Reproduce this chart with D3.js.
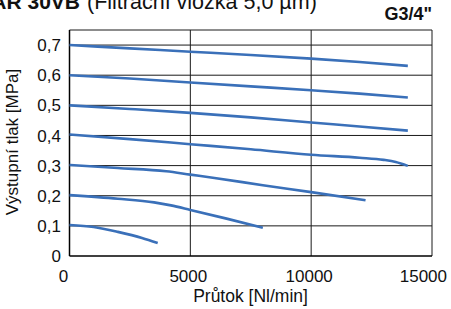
<!DOCTYPE html>
<html><head><meta charset="utf-8">
<script src="https://cdn.jsdelivr.net/npm/d3@7"></script>
<style>body{margin:0;background:#fff}svg{display:block}text{font-family:"Liberation Sans",Arial,sans-serif;fill:#111}</style>
</head><body>
<script>
const xTicks = [0, 5000, 10000, 15000];
const xTickLabels = ["0", "5000", "10000", "15000"];
const yTicks = [0, 0.1, 0.2, 0.3, 0.4, 0.5, 0.6, 0.7];
const yTickLabels = ["0", "0,1", "0,2", "0,3", "0,4", "0,5", "0,6", "0,7"];
const flow07 = [0, 2500, 5000, 7500, 10000, 12000, 14000];
const press07 = [0.700, 0.689, 0.678, 0.667, 0.655, 0.644, 0.631];
const flow06 = [0, 2500, 5000, 7500, 10000, 12000, 14000];
const press06 = [0.600, 0.589, 0.576, 0.563, 0.550, 0.539, 0.526];
const flow05 = [0, 2500, 5000, 7500, 10000, 12000, 14000];
const press05 = [0.500, 0.488, 0.475, 0.460, 0.443, 0.430, 0.416];
const flow04 = [0, 2500, 5000, 7500, 10000, 12000, 13000, 13500, 14000];
const press04 = [0.403, 0.388, 0.371, 0.354, 0.336, 0.326, 0.319, 0.312, 0.299];
const flow03 = [0, 2000, 4000, 5000, 6000, 8000, 10000, 12250];
const press03 = [0.302, 0.292, 0.281, 0.270, 0.259, 0.235, 0.212, 0.185];
const flow02 = [0, 2000, 3500, 4200, 5000, 6500, 8000];
const press02 = [0.202, 0.190, 0.178, 0.168, 0.153, 0.124, 0.094];
const flow01 = [0, 1000, 2000, 3000, 3650];
const press01 = [0.103, 0.096, 0.080, 0.060, 0.043];
const series = [[flow07, press07], [flow06, press06], [flow05, press05], [flow04, press04], [flow03, press03], [flow02, press02], [flow01, press01]];

const W = 451, H = 309;
const svg = d3.select("body").append("svg").attr("width", W).attr("height", H);
const x = d3.scaleLinear().domain([0, 15000]).range([69.5, 432]);
const y = d3.scaleLinear().domain([0, 0.75]).range([256, 30]);

// title (cut off at top, as in the reference)
svg.append("text").attr("x", 80).attr("y", 9).attr("text-anchor", "end")
  .style("font-size", "21px").style("font-weight", "bold").text("AR 30VB");
svg.append("text").attr("x", 87).attr("y", 9)
  .style("font-size", "21.5px").text("(Filtrační vložka 5,0 µm)");
svg.append("text").attr("x", 432).attr("y", 20).attr("text-anchor", "end")
  .style("font-size", "18px").style("font-weight", "bold").text('G3/4"');

// grid
const g = svg.append("g");
g.selectAll(".hg").data(yTicks.filter(d => d > 0).concat([0.75])).enter().append("line")
  .attr("x1", x(0)).attr("x2", x(15000)).attr("y1", d => y(d)).attr("y2", d => y(d))
  .attr("stroke", "#1a1a1a").attr("stroke-width", 1);
g.selectAll(".vg").data(xTicks.filter(d => d > 0)).enter().append("line")
  .attr("x1", d => x(d)).attr("x2", d => x(d)).attr("y1", y(0)).attr("y2", y(0.75))
  .attr("stroke", "#1a1a1a").attr("stroke-width", 1);
g.append("line").attr("x1", x(0)).attr("x2", x(0)).attr("y1", y(0)).attr("y2", y(0.75)).attr("stroke", "#000").attr("stroke-width", 1.5);
g.append("line").attr("x1", x(0)).attr("x2", x(15000)).attr("y1", y(0)).attr("y2", y(0)).attr("stroke", "#000").attr("stroke-width", 1.5);

// tick labels
svg.selectAll(".yl").data(yTicks).enter().append("text")
  .attr("x", 61).attr("y", d => y(d)).attr("dy", "0.36em").attr("text-anchor", "end")
  .style("font-size", "17px").text((d, i) => yTickLabels[i]);
const nx = xTicks.length;
svg.selectAll(".xl").data(xTicks).enter().append("text")
  .attr("x", (d, i) => i === nx - 1 ? 447 : x(d) - (i === 0 ? 6 : 2))
  .attr("y", 282).attr("text-anchor", (d, i) => i === nx - 1 ? "end" : "middle")
  .style("font-size", "17px").text((d, i) => xTickLabels[i]);

// axis titles
svg.append("text").attr("x", 250.5).attr("y", 302).attr("text-anchor", "middle")
  .style("font-size", "17.5px").text("Průtok [Nl/min]");
svg.append("text").attr("transform", "translate(18,142) rotate(-90)").attr("text-anchor", "middle")
  .style("font-size", "17px").text("Výstupní tlak [MPa]");

// curves
const line = d3.line().x(d => x(d[0])).y(d => y(d[1])).curve(d3.curveMonotoneX);
svg.selectAll(".curve").data(series).enter().append("path")
  .attr("d", s => line(s[0].map((f, i) => [f, s[1][i]])))
  .attr("fill", "none").attr("stroke", "#3a70b9").attr("stroke-width", 2.6).attr("stroke-linecap", "butt");
</script>
</body></html>
